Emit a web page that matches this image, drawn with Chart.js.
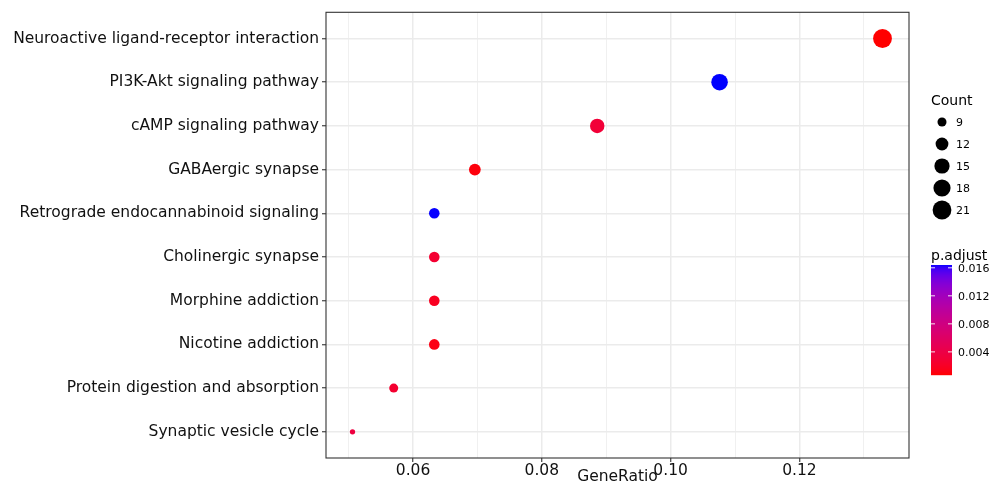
<!DOCTYPE html>
<html>
<head>
<meta charset="utf-8">
<script src="https://cdn.jsdelivr.net/npm/chart.js@4.4.0/dist/chart.umd.min.js"></script>
<style>
body { margin: 0; background: #fff; }
</style>
</head>
<body>
<canvas id="myChart" width="992" height="484"></canvas>
<script>
// KEGG enrichment dot plot
var pathways = [
    "Neuroactive ligand-receptor interaction",
    "PI3K-Akt signaling pathway",
    "cAMP signaling pathway",
    "GABAergic synapse",
    "Retrograde endocannabinoid signaling",
    "Cholinergic synapse",
    "Morphine addiction",
    "Nicotine addiction",
    "Protein digestion and absorption",
    "Synaptic vesicle cycle"
];
var geneRatio = [0.1329, 0.1076, 0.0886, 0.0696, 0.0633, 0.0633, 0.0633, 0.0633, 0.0570, 0.0506];
var counts = [21, 17, 14, 11, 10, 10, 10, 10, 9, 8];
var pAdjust = [0.0007, 0.0164, 0.0031, 0.0010, 0.01638, 0.0027, 0.0018, 0.0013, 0.0026, 0.0036];
var xTicks = [0.06, 0.08, 0.10, 0.12];
var countBreaks = [9, 12, 15, 18, 21];
var pBreaks = [0.004, 0.008, 0.012, 0.016];

var FONT = "'DejaVu Sans', sans-serif";

// --- colour helpers (red -> blue in Lab, like ggplot) ---
function toLin(c) { c /= 255; return c <= 0.04045 ? c / 12.92 : Math.pow((c + 0.055) / 1.055, 2.4); }
function fromLin(c) { c = c <= 0.0031308 ? 12.92 * c : 1.055 * Math.pow(c, 1 / 2.4) - 0.055; return Math.max(0, Math.min(255, Math.round(c * 255))); }
function rgb2lab(r, g, b) {
    r = toLin(r); g = toLin(g); b = toLin(b);
    var X = (0.4124 * r + 0.3576 * g + 0.1805 * b) / 0.95047;
    var Y = (0.2126 * r + 0.7152 * g + 0.0722 * b);
    var Z = (0.0193 * r + 0.1192 * g + 0.9505 * b) / 1.08883;
    function f(t) { return t > 0.008856 ? Math.cbrt(t) : 7.787 * t + 16 / 116; }
    var fx = f(X), fy = f(Y), fz = f(Z);
    return [116 * fy - 16, 500 * (fx - fy), 200 * (fy - fz)];
}
function lab2rgb(L, a, b) {
    var fy = (L + 16) / 116, fx = fy + a / 500, fz = fy - b / 200;
    function fi(t) { return t > 0.206893 ? t * t * t : (t - 16 / 116) / 7.787; }
    var X = fi(fx) * 0.95047, Y = fi(fy), Z = fi(fz) * 1.08883;
    var r = 3.2406 * X - 1.5372 * Y - 0.4986 * Z;
    var g = -0.9689 * X + 1.8758 * Y + 0.0415 * Z;
    var bb = 0.0557 * X - 0.2040 * Y + 1.0570 * Z;
    return "rgb(" + fromLin(r) + "," + fromLin(g) + "," + fromLin(bb) + ")";
}
var LOW = rgb2lab(255, 0, 0), HIGH = rgb2lab(0, 0, 255);
var pMin = Math.min.apply(null, pAdjust), pMax = Math.max.apply(null, pAdjust);
function colorOf(p) {
    var t = Math.max(0, Math.min(1, (p - pMin) / (pMax - pMin)));
    return lab2rgb(LOW[0] + t * (HIGH[0] - LOW[0]), LOW[1] + t * (HIGH[1] - LOW[1]), LOW[2] + t * (HIGH[2] - LOW[2]));
}

// --- size helper (area scale, like scale_size) ---
var cMin = Math.min.apply(null, counts), cMax = Math.max.apply(null, counts);
function radiusOf(c) {
    var size = 1 + 5 * Math.sqrt((c - cMin) / (cMax - cMin));
    return (size * 2.7 + 2.6) / 2;
}

var gMin = Math.min.apply(null, geneRatio), gMax = Math.max.apply(null, geneRatio);
var gPad = (gMax - gMin) * 0.05;

function isMajor(v) {
    return xTicks.some(function (t) { return Math.abs(t - v) < 1e-9; });
}

var legendPlugin = {
    id: 'ggLegend',
    afterDraw: function (chart) {
        var ctx = chart.ctx, a = chart.chartArea;
        ctx.save();
        // panel border
        ctx.strokeStyle = '#333333';
        ctx.lineWidth = 1.1;
        ctx.strokeRect(a.left, a.top, a.right - a.left, a.bottom - a.top);

        // Count legend
        ctx.fillStyle = '#000';
        ctx.textBaseline = 'middle';
        ctx.textAlign = 'left';
        ctx.font = "14px " + FONT;
        ctx.fillText("Count", 931, 101);
        ctx.font = "11px " + FONT;
        countBreaks.forEach(function (c, i) {
            var y = 122 + i * 22;
            ctx.beginPath();
            ctx.arc(942, y, radiusOf(c), 0, Math.PI * 2);
            ctx.fill();
            ctx.fillText(String(c), 956, y + 1);
        });

        // p.adjust colourbar
        ctx.font = "14px " + FONT;
        ctx.fillText("p.adjust", 931, 256);
        var bx = 931, bw = 21, by = 265, bh = 110;
        for (var k = 0; k < bh; k++) {
            var p = pMax - (k + 0.5) / bh * (pMax - pMin);
            ctx.fillStyle = colorOf(p);
            ctx.fillRect(bx, by + k, bw, 1.2);
        }
        ctx.font = "11px " + FONT;
        pBreaks.forEach(function (p) {
            var y = by + bh - (p - pMin) / (pMax - pMin) * bh;
            ctx.strokeStyle = 'rgba(255,255,255,0.9)';
            ctx.lineWidth = 1;
            ctx.beginPath();
            ctx.moveTo(bx, y); ctx.lineTo(bx + 4, y);
            ctx.moveTo(bx + bw - 4, y); ctx.lineTo(bx + bw, y);
            ctx.stroke();
            ctx.fillStyle = '#000';
            ctx.fillText(p.toFixed(3), 958, y + 1);
        });
        ctx.restore();
    }
};

function renderChart() {
    var ctx = document.getElementById("myChart").getContext('2d');
    var myChart = new Chart(ctx, {
        type: 'scatter',
        data: {
            datasets: [{
                label: 'GeneRatio',
                data: pathways.map(function (p, i) { return { x: geneRatio[i], y: i }; }),
                pointRadius: function (c) { return radiusOf(counts[c.dataIndex]); },
                pointHoverRadius: function (c) { return radiusOf(counts[c.dataIndex]); },
                backgroundColor: function (c) { return colorOf(pAdjust[c.dataIndex]); },
                borderWidth: 0
            }]
        },
        options: {
            responsive: false,
            animation: false,
            devicePixelRatio: 1,
            layout: { padding: { left: 0, right: 83, top: 12, bottom: 0 } },
            plugins: { legend: { display: false }, tooltip: { enabled: false } },
            scales: {
                x: {
                    type: 'linear',
                    min: gMin - gPad,
                    max: gMax + gPad,
                    afterBuildTicks: function (scale) {
                        var t = [];
                        for (var k = 5; k <= 13; k++) t.push({ value: k / 100 });
                        scale.ticks = t;
                    },
                    afterFit: function (scale) { scale.height = 26; },
                    ticks: {
                        autoSkip: false,
                        maxRotation: 0,
                        padding: 0,
                        color: '#111',
                        font: { family: FONT, size: 15.5 },
                        callback: function (v) { return isMajor(v) ? v.toFixed(2) : ''; }
                    },
                    grid: {
                        color: '#EBEBEB',
                        lineWidth: function (c) { return isMajor(c.tick.value) ? 1.5 : 0.75; },
                        tickColor: function (c) { return isMajor(c.tick.value) ? '#333333' : 'rgba(0,0,0,0)'; },
                        tickLength: 4,
                        tickWidth: 1.1
                    },
                    border: { display: false },
                    title: {
                        display: true,
                        text: 'GeneRatio',
                        color: '#111',
                        padding: { top: 0, bottom: -1 },
                        font: { family: FONT, size: 15.5, lineHeight: 1 }
                    }
                },
                y: {
                    type: 'linear',
                    reverse: true,
                    min: -0.6,
                    max: pathways.length - 0.4,
                    afterBuildTicks: function (scale) {
                        scale.ticks = pathways.map(function (p, i) { return { value: i }; });
                    },
                    afterFit: function (scale) { scale.width = 326; },
                    ticks: {
                        autoSkip: false,
                        padding: 3,
                        color: '#111',
                        font: { family: FONT, size: 15.5 },
                        callback: function (v) { return pathways[v]; }
                    },
                    grid: {
                        color: '#EBEBEB',
                        lineWidth: 1.5,
                        tickColor: '#333333',
                        tickLength: 4,
                        tickWidth: 1.1
                    },
                    border: { display: false }
                }
            }
        },
        plugins: [legendPlugin]
    });
}

renderChart();
</script>
</body>
</html>
